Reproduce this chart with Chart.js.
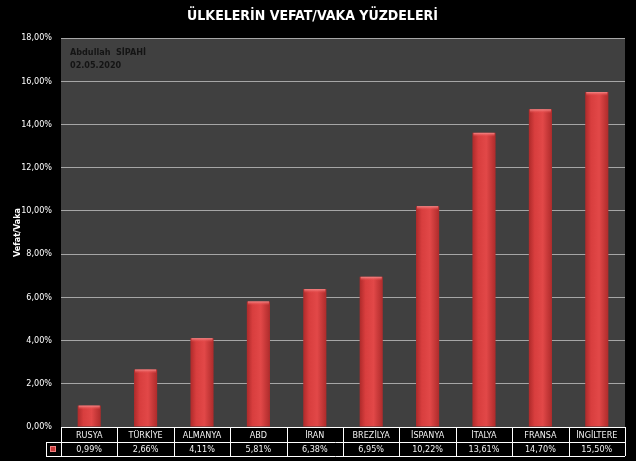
<!DOCTYPE html>
<html>
<head>
<meta charset="utf-8">
<script src="https://cdn.jsdelivr.net/npm/chart.js@4/dist/chart.umd.min.js"></script>
<style>
  html, body { margin: 0; padding: 0; background: #000; }
  #wrap { width: 636px; height: 461px; }
</style>
</head>
<body>
<div id="wrap"><canvas id="rateChart"></canvas></div>
<script>
// Vefat/Vaka yuzdeleri (02.05.2020)
const countries = ['RUSYA', 'TÜRKİYE', 'ALMANYA', 'ABD', 'İRAN', 'BREZİLYA', 'İSPANYA', 'İTALYA', 'FRANSA', 'İNGİLTERE'];
const rates = [0.99, 2.66, 4.11, 5.81, 6.38, 6.95, 10.22, 13.61, 14.70, 15.50];
const yTicks = [0, 2, 4, 6, 8, 10, 12, 14, 16, 18];

const fmt = v => v.toFixed(2).replace('.', ',') + '%';
const textFont = "'Liberation Sans Narrow', 'DejaVu Sans Condensed', 'Liberation Sans', sans-serif";

// gray plot background
const plotBg = {
  id: 'plotBg',
  beforeDraw(chart) {
    const { ctx, chartArea: a } = chart;
    ctx.save();
    ctx.fillStyle = '#404040';
    ctx.fillRect(a.left, a.top, a.right - a.left, a.bottom - a.top);
    ctx.restore();
  }
};

// light cap on top of every bar
const barCaps = {
  id: 'barCaps',
  afterDatasetsDraw(chart) {
    const ctx = chart.ctx;
    chart.getDatasetMeta(0).data.forEach(bar => {
      const w = bar.width, x = bar.x - w / 2;
      const g = ctx.createLinearGradient(0, bar.y, 0, bar.y + 4);
      g.addColorStop(0, '#f58a8a');
      g.addColorStop(1, 'rgba(230,70,70,0)');
      ctx.save();
      ctx.fillStyle = g;
      ctx.fillRect(x + 1, bar.y, w - 2, 4);
      ctx.restore();
    });
  }
};

// data table under the plot + author note
const dataTable = {
  id: 'dataTable',
  afterDraw(chart) {
    const { ctx, chartArea: a } = chart;
    const x = chart.scales.x;
    const step = (a.right - a.left) / countries.length;
    const r1 = a.bottom, r2 = a.bottom + 15, r3 = a.bottom + 29;
    const keyLeft = a.left - 15;
    ctx.save();
    ctx.strokeStyle = '#ffffff';
    ctx.lineWidth = 1;
    ctx.beginPath();
    ctx.moveTo(a.left, r1 + 0.5); ctx.lineTo(a.right, r1 + 0.5);
    ctx.moveTo(keyLeft, r2 + 0.5); ctx.lineTo(a.right, r2 + 0.5);
    ctx.moveTo(keyLeft, r3 + 0.5); ctx.lineTo(a.right, r3 + 0.5);
    ctx.moveTo(keyLeft + 0.5, r2); ctx.lineTo(keyLeft + 0.5, r3);
    for (let i = 0; i <= countries.length; i++) {
      const lx = Math.round(a.left + i * step) + 0.5;
      ctx.moveTo(lx, r1); ctx.lineTo(lx, r3);
    }
    ctx.stroke();

    ctx.fillStyle = '#f2f2f2';
    ctx.font = "9px " + textFont;
    ctx.textAlign = 'center';
    ctx.textBaseline = 'middle';
    countries.forEach((c, i) => {
      const cx = x.getPixelForValue(i);
      ctx.fillText(c, cx, (r1 + r2) / 2 + 1);
      ctx.fillText(fmt(rates[i]), cx, (r2 + r3) / 2 + 1);
    });

    // legend key
    const kx = keyLeft + 4, ky = r2 + 4;
    ctx.fillStyle = '#c83a3a';
    ctx.fillRect(kx, ky, 6, 6);
    ctx.strokeStyle = '#f08080';
    ctx.strokeRect(kx + 0.5, ky + 0.5, 5, 5);

    // author note
    ctx.fillStyle = '#141414';
    ctx.textAlign = 'left';
    ctx.font = "bold 9px " + textFont;
    ctx.fillText('Abdullah  SİPAHİ', a.left + 9, a.top + 15);
    ctx.fillText('02.05.2020', a.left + 9, a.top + 28);
    ctx.restore();
  }
};

function barFill(context) {
  const chart = context.chart;
  if (!chart.chartArea) return '#d03a3a';
  const xs = chart.scales.x;
  const cx = xs.getPixelForValue(context.dataIndex);
  const w = (chart.chartArea.right - chart.chartArea.left) / countries.length * 0.41;
  const g = chart.ctx.createLinearGradient(cx - w / 2, 0, cx + w / 2, 0);
  g.addColorStop(0, '#ae2a2a');
  g.addColorStop(0.25, '#d83e3e');
  g.addColorStop(0.6, '#e24848');
  g.addColorStop(1, '#ae2b2b');
  return g;
}

const ctx = document.getElementById('rateChart').getContext('2d');
const rateChart = new Chart(ctx, {
  type: 'bar',
  data: {
    labels: countries,
    datasets: [{
      label: 'Vefat/Vaka',
      data: rates,
      backgroundColor: barFill,
      borderWidth: 0,
      categoryPercentage: 1,
      barPercentage: 0.41
    }]
  },
  options: {
    responsive: true,
    maintainAspectRatio: false,
    animation: false,
    layout: { padding: { left: 0, right: 11, top: 0, bottom: 34 } },
    plugins: {
      legend: { display: false },
      tooltip: { enabled: false },
      title: {
        display: true,
        text: 'ÜLKELERİN VEFAT/VAKA YÜZDELERİ',
        color: '#ffffff',
        font: { family: textFont, size: 14, weight: 'bold' },
        padding: { top: 8, bottom: 13.2 }
      }
    },
    scales: {
      x: { display: false },
      y: {
        min: 0,
        max: 18,
        afterFit(scale) { scale.width = 61; },
        afterBuildTicks(scale) { scale.ticks = yTicks.map(v => ({ value: v })); },
        ticks: {
          color: '#ffffff',
          padding: 9,
          font: { family: textFont, size: 9 },
          callback: v => fmt(v)
        },
        grid: { color: '#a6a6a6', drawTicks: false },
        border: { display: false },
        title: {
          display: true,
          text: 'Vefat/Vaka',
          color: '#ffffff',
          font: { family: textFont, size: 9, weight: 'bold' },
          padding: { top: 12, bottom: 0 }
        }
      }
    }
  },
  plugins: [plotBg, barCaps, dataTable]
});
</script>
</body>
</html>
